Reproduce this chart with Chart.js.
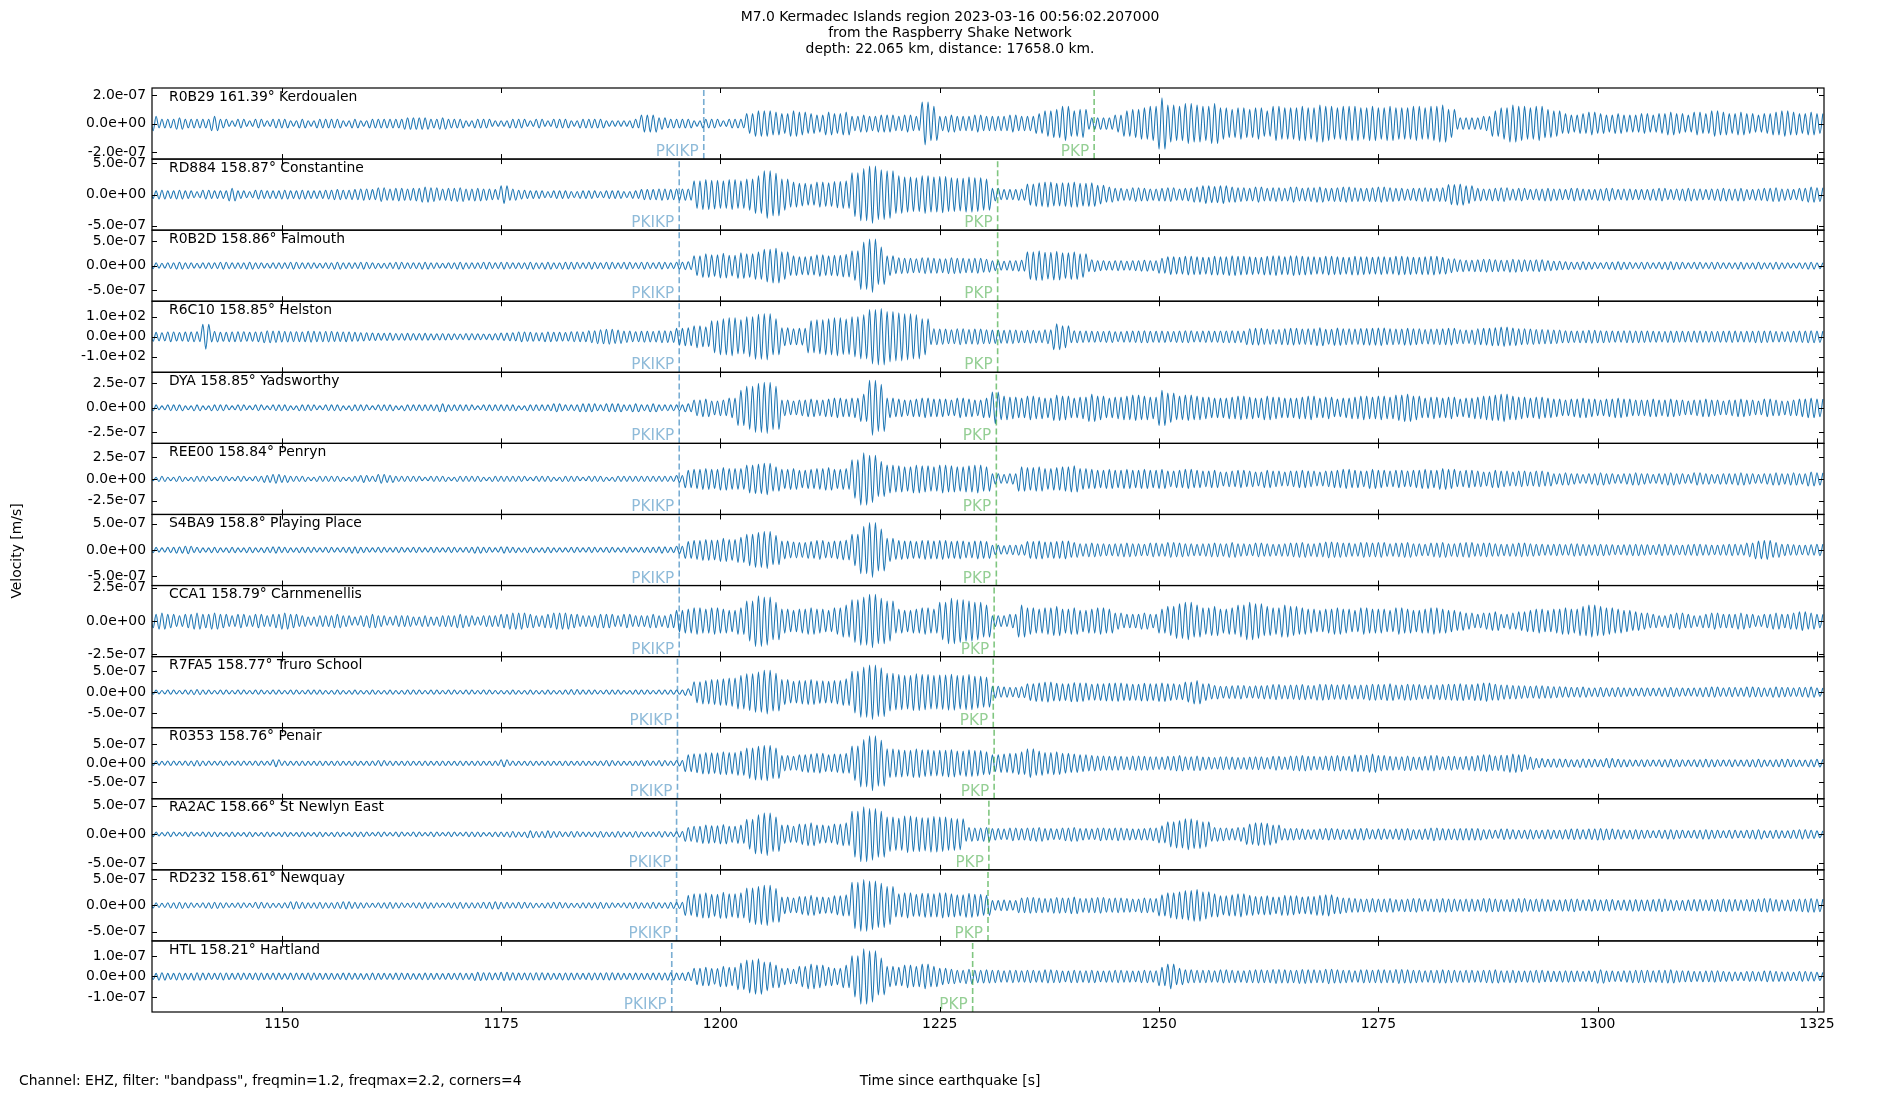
<!DOCTYPE html>
<html>
<head>
<meta charset="utf-8">
<title>M7.0 Kermadec Islands region - Raspberry Shake traces</title>
<script src="https://cdn.jsdelivr.net/npm/chart.js@4.4.1/dist/chart.umd.min.js"></script>
<style>
  html, body { margin: 0; padding: 0; background: #fff; }
  #wrap { position: relative; width: 1900px; height: 1100px; }
</style>
</head>
<body>
<div id="wrap"><canvas id="traces"></canvas></div>
<script>
"use strict";

// ---- data ----
const titleLines = [
  "M7.0 Kermadec Islands region 2023-03-16 00:56:02.207000",
  "from the Raspberry Shake Network",
  "depth: 22.065 km, distance: 17658.0 km."
];
const footNote = 'Channel: EHZ, filter: "bandpass", freqmin=1.2, freqmax=2.2, corners=4';
const xTitle = "Time since earthquake [s]";
const yTitle = "Velocity [m/s]";

const xMin = 1135.2, xMax = 1325.8, xStep = 25;
const tStart = 1135;          // envelope arrays: one value per second from here

const stations  = ["R0B29", "RD884", "R0B2D", "R6C10", "DYA", "REE00", "S4BA9", "CCA1", "R7FA5", "R0353", "RA2AC", "RD232", "HTL"];
const distances = [161.39, 158.87, 158.86, 158.85, 158.85, 158.84, 158.8, 158.79, 158.77, 158.76, 158.66, 158.61, 158.21];
const places    = ["Kerdoualen", "Constantine", "Falmouth", "Helston", "Yadsworthy", "Penryn", "Playing Place", "Carnmenellis", "Truro School", "Penair", "St Newlyn East", "Newquay", "Hartland"];

// half-height of each panel and its tick step (R6C10 is in counts)
const yLimits   = [2.49e-7, 5.7e-7, 7.2e-7, 177, 3.62e-7, 4.07e-7, 6.75e-7, 2.66e-7, 8.5e-7, 9.3e-7, 6.2e-7, 6.75e-7, 1.73e-7];
const yTickStep = [2e-7, 5e-7, 5e-7, 100, 2.5e-7, 2.5e-7, 5e-7, 2.5e-7, 5e-7, 5e-7, 5e-7, 5e-7, 1e-7];
const envUnit   = [1e-8, 1e-8, 1e-8, 1, 1e-8, 1e-8, 1e-8, 1e-8, 1e-8, 1e-8, 1e-8, 1e-8, 1e-8];

// predicted arrival times [s]
const pkikp = [1198.1, 1195.3, 1195.3, 1195.3, 1195.3, 1195.3, 1195.3, 1195.3, 1195.1, 1195.1, 1195.0, 1195.0, 1194.45];
const pkp   = [1242.6, 1231.6, 1231.6, 1231.6, 1231.45, 1231.45, 1231.45, 1231.2, 1231.1, 1231.2, 1230.6, 1230.5, 1228.75];

// amplitude envelopes, one value per second (1135 ... 1325)
const envR0B29 = [
  5,3,3,4,3,3,3,5,3,2,  3,2,3,2,3,3,2,3,2,3,  3,3,2,3,2,3,3,3,3,4,  4,4,3,4,3,3,2,3,3,2,
  2,3,3,2,3,2,3,3,2,3,  3,3,2,2,2,3,6,6,4,3,  3,3,2,3,3,2,3,3,7,9,  9,8,7,9,8,7,6,8,7,8,
  5,6,5,6,6,5,6,5,15,12,  5,6,5,5,6,5,5,5,6,5,  5,7,9,10,12,9,10,4,4,4,  6,9,10,11,12,18,13,12,14,13,
  12,14,11,10,11,10,11,9,12,11,  11,12,11,13,12,11,12,12,11,12,  11,12,11,11,12,11,12,13,10,4,  4,4,5,9,11,13,12,11,12,10,
  9,7,6,7,8,7,6,7,6,6,  7,6,7,8,7,6,8,7,9,8,  7,8,7,6,7,8,9,8,7,8,7
];
const envRD884 = [
  6,7,6,7,6,5,7,6,6,10,  6,5,7,6,6,7,6,7,6,6,  7,8,7,8,9,8,11,9,10,9,  10,12,11,9,10,11,9,10,9,8,
  14,9,7,6,6,5,6,6,5,6,  6,5,6,6,5,6,8,8,9,8,  9,9,22,24,23,22,24,22,25,30,  38,34,25,20,18,17,20,19,21,22,
  35,42,46,40,38,30,28,27,30,28,  29,27,26,28,27,25,10,8,8,9,  17,19,20,18,19,20,18,19,15,12,  10,9,11,10,9,10,11,9,10,12,
  14,13,14,12,11,10,12,10,11,10,  12,10,11,12,10,11,12,11,10,11,  12,11,10,9,10,11,10,11,16,17,  14,10,9,10,11,9,10,8,9,10,
  9,8,10,9,8,9,10,8,9,8,  8,9,10,8,9,10,9,8,9,10,  9,10,8,9,10,11,9,8,10,12,11
];
const envR0B2D = [
  6,5,6,7,6,5,6,6,7,6,  6,7,6,5,6,6,7,6,6,5,  6,7,6,6,7,6,5,6,7,6,  6,7,6,5,6,7,6,6,7,6,
  7,6,6,7,6,7,6,7,7,6,  7,6,7,6,7,6,7,6,7,6,  7,8,20,24,22,25,21,26,24,28,  33,35,28,20,18,19,22,20,21,23,
  30,48,54,38,20,16,15,14,16,15,  14,16,15,14,15,13,10,9,10,11,  28,30,27,29,26,28,24,12,10,9,  10,9,10,11,10,15,18,17,19,18,
  17,19,18,20,19,18,17,19,20,18,  20,19,18,17,19,18,17,19,18,17,  18,17,19,18,17,18,19,17,14,12,  11,12,13,12,11,13,12,11,12,10,
  9,8,7,8,7,6,7,8,7,6,  7,6,7,8,7,6,7,6,7,6,  6,7,6,7,6,7,6,5,6,7,6
];
const envR6C10 = [
  22,20,24,21,23,25,62,26,22,24,  25,22,24,30,28,26,25,24,27,25,  26,23,24,22,20,18,17,18,16,17,  16,17,15,16,15,14,16,15,14,16,
  18,20,24,22,20,24,22,21,25,24,  30,35,37,33,28,25,27,26,30,28,  42,45,55,50,80,90,95,85,100,112,  115,90,45,40,42,80,85,90,95,88,
  100,110,135,140,125,120,115,110,90,40,  38,35,40,36,38,35,33,32,34,30,  32,30,35,65,55,30,28,27,26,28,  25,27,28,30,27,28,26,28,30,26,
  28,27,29,30,28,40,42,38,36,40,  42,38,40,45,37,43,40,38,41,42,  44,40,38,42,40,36,38,40,42,35,  33,40,42,45,48,44,40,38,36,35,
  34,30,28,30,32,30,28,27,30,29,  28,27,26,28,27,26,28,27,26,27,  28,26,27,29,28,26,25,27,28,30,28
];
const envDYA = [
  3,2,3,3,2,3,2,3,3,2,  3,2,3,2,3,3,2,3,3,2,  3,3,2,3,3,2,3,3,2,3,  3,3,3,4,3,3,3,2,3,3,
  3,3,2,3,3,3,4,3,3,4,  4,3,4,4,3,4,3,4,3,3,  3,4,8,9,7,8,10,18,22,25,  26,22,8,7,8,9,8,9,10,9,
  10,14,28,24,10,9,8,9,10,9,  9,8,10,9,8,10,16,12,11,10,  12,11,10,13,12,10,11,14,12,10,  11,12,13,12,11,18,15,12,13,12,
  11,10,10,11,12,11,10,12,11,10,  10,11,12,10,11,9,10,11,12,11,  12,11,13,14,12,10,11,10,11,9,  10,11,12,13,14,12,11,10,11,10,
  9,8,9,10,9,8,9,10,9,8,  8,9,8,9,8,7,8,9,8,7,  8,9,8,7,9,8,7,8,9,10,9
];
const envREE00 = [
  2,3,2,3,2,3,3,2,3,2,  3,2,3,4,5,4,3,3,2,3,  3,3,2,3,4,3,5,4,3,3,  3,2,3,3,2,3,3,3,2,3,
  3,3,3,2,3,3,2,3,3,2,  3,3,2,3,3,3,3,3,3,3,  4,10,11,12,11,13,12,12,16,17,  18,14,11,12,10,11,12,13,11,12,
  22,30,27,20,16,15,14,16,15,14,  16,15,14,15,16,14,6,5,6,14,  13,14,12,13,14,15,12,11,10,11,  10,11,10,11,10,11,9,10,11,10,
  9,10,8,9,10,9,8,10,9,8,  9,10,9,8,9,10,11,10,9,11,  10,9,10,9,10,11,10,12,11,9,  10,9,8,10,9,8,9,8,9,8,
  6,7,6,5,6,7,6,5,6,7,  6,5,6,7,6,5,7,6,5,6,  6,7,6,5,6,7,6,7,6,8,7
];
const envS4BA9 = [
  5,4,5,6,7,5,4,5,4,5,  4,5,4,5,6,5,4,5,5,4,  5,4,5,6,5,4,5,4,5,4,  5,4,5,4,5,4,5,6,5,4,
  6,5,4,5,4,5,4,4,5,4,  5,4,5,4,5,4,5,5,6,5,  7,16,18,20,19,22,20,24,30,33,  35,28,17,15,14,16,18,15,17,19,
  30,45,52,40,22,18,17,16,18,17,  18,16,17,15,17,16,9,8,9,10,  16,17,15,16,17,14,12,13,12,11,  12,13,12,11,13,12,14,13,12,11,
  12,13,12,14,12,11,13,12,11,12,  13,14,12,13,15,14,13,12,14,13,  14,12,13,14,12,11,13,14,12,13,  14,12,13,12,11,12,13,12,11,10,
  11,10,12,11,10,11,10,9,10,11,  10,9,11,10,9,10,11,10,9,10,  11,10,13,17,18,14,11,10,9,10,11
];
const envCCA1 = [
  5,6,5,4,5,6,5,6,5,4,  5,4,5,4,5,6,5,4,3,4,  4,5,4,3,4,5,4,3,4,4,  3,4,3,4,4,5,4,3,4,4,
  5,6,6,5,4,5,6,6,5,4,  4,5,5,4,5,4,4,5,4,5,  8,9,10,9,10,9,8,10,15,19,  18,14,9,8,9,10,9,8,10,12,
  16,18,20,17,15,9,8,9,10,9,  14,17,16,15,14,12,4,4,5,12,  10,9,10,11,9,10,8,9,10,9,  6,5,5,6,5,9,11,13,14,12,
  10,11,9,10,12,14,13,11,10,12,  11,10,9,8,9,10,9,8,10,9,  9,8,10,9,8,9,10,9,8,7,  6,5,6,7,5,6,7,8,9,8,
  9,10,9,11,12,11,10,9,8,7,  6,5,4,5,6,5,4,5,6,5,  5,6,5,4,5,6,5,6,7,6,5
];
const envR7FA5 = [
  5,4,5,4,5,6,5,4,5,4,  5,4,5,4,5,4,5,4,5,5,  4,5,4,5,4,5,4,5,4,5,  5,4,5,4,5,4,5,4,5,4,
  4,5,4,5,4,5,4,5,6,5,  5,4,5,5,4,5,5,4,5,5,  5,8,25,28,30,32,34,40,44,48,  52,45,30,26,28,30,27,26,28,32,
  50,60,65,58,45,42,40,44,42,40,  41,43,40,42,38,36,14,12,11,13,  20,22,24,21,20,23,22,19,20,21,  22,20,19,21,20,22,20,18,24,28,
  20,16,14,15,16,14,15,16,18,16,  17,18,16,19,18,17,18,16,17,19,  18,20,17,19,18,16,17,18,19,20,  18,20,22,19,17,16,15,14,15,14,
  13,12,11,12,10,11,10,11,10,9,  10,9,10,11,10,9,10,11,12,10,  11,10,12,11,10,12,11,10,11,12,10
];
const envR0353 = [
  6,5,6,5,6,7,6,5,6,5,  6,5,6,5,9,6,5,6,5,6,  5,6,5,6,5,6,7,6,5,6,  5,6,5,6,5,6,5,6,5,6,
  9,6,5,6,5,6,5,6,5,6,  5,6,7,6,5,6,7,6,7,6,  7,22,25,28,27,30,28,32,40,44,  46,40,20,18,22,24,26,22,24,26,
  45,62,72,60,38,36,34,38,35,33,  34,36,32,35,33,30,22,24,26,30,  38,32,28,30,26,24,22,20,19,18,  18,17,19,18,17,16,18,20,17,19,
  16,15,17,16,15,16,17,15,18,16,  19,20,18,17,19,20,18,22,21,24,  20,18,17,19,16,18,20,17,18,16,  18,20,22,19,21,24,22,16,12,10,
  11,10,9,11,10,9,12,10,9,8,  9,8,9,10,9,8,9,10,9,8,  9,8,9,10,8,9,10,9,8,9,10
];
const envRA2AC = [
  4,3,4,3,4,3,4,4,3,4,  3,4,3,4,3,4,3,4,3,4,  3,4,3,4,4,3,4,3,4,3,  4,3,4,3,4,3,4,4,3,4,
  4,5,4,6,5,6,5,4,5,4,  4,5,4,5,4,5,4,4,5,4,  5,12,14,16,15,17,14,16,26,34,  37,30,16,14,18,20,16,15,18,20,
  40,48,45,40,30,28,32,30,29,31,  30,28,27,12,11,12,10,9,11,10,  11,12,10,9,11,12,10,9,11,10,  11,10,9,10,11,15,22,24,27,25,
  22,12,11,10,12,18,20,19,16,10,  10,9,8,9,10,9,8,9,10,8,  9,8,9,10,8,9,11,10,9,10,  10,10,8,7,9,8,7,8,7,8,
  7,8,9,8,9,10,9,8,7,8,  7,6,7,8,7,6,7,8,7,6,  7,6,7,8,6,7,6,7,8,7,6
];
const envRD232 = [
  5,4,5,6,5,4,5,6,5,4,  5,4,6,5,4,5,7,6,5,6,  5,6,7,6,5,4,5,6,5,4,  5,6,5,4,5,6,5,5,6,7,
  6,5,6,5,4,5,6,5,4,5,  5,6,5,4,5,6,5,6,5,6,  6,19,22,24,21,25,22,24,33,36,  38,32,16,14,17,19,16,15,18,20,
  44,49,46,42,36,22,24,21,23,22,  24,22,20,23,21,19,9,10,9,14,  15,14,13,15,14,16,13,14,15,13,  14,13,12,14,13,20,24,26,28,30,
  26,22,18,20,22,19,17,18,16,19,  18,16,17,19,20,16,14,13,12,13,  12,13,11,12,13,11,12,13,12,11,  12,11,13,12,11,12,13,11,12,11,
  10,11,12,10,11,10,11,9,10,11,  10,11,12,10,9,10,11,10,11,12,  11,10,11,12,13,11,10,11,12,13,12
];
const envHTL = [
  1.5,1.8,1.5,1.7,1.5,1.8,1.6,1.5,1.7,1.5,  1.6,1.5,1.7,1.5,1.6,1.4,1.6,1.5,1.7,1.5,
  1.5,1.4,1.6,1.5,1.4,1.6,1.5,1.4,1.6,1.5,  1.4,1.6,1.5,1.4,1.5,1.6,1.5,2.0,1.8,1.6,
  2.0,1.8,1.6,1.7,1.8,1.6,1.5,1.7,1.6,1.5,  1.7,1.6,1.8,1.6,1.5,1.6,1.5,1.6,1.7,1.8,
  1.6,2.0,4.0,4.5,3.8,5.0,4.5,6.5,8.0,8.6,  7.0,5.5,4.0,3.5,5.0,6.0,5.5,4.5,4.0,5.5,
  10.0,13.5,12.5,9.0,5.0,4.5,5.5,5.0,6.0,5.0,  4.0,3.5,3.0,3.5,3.0,3.2,3.0,2.8,3.0,2.8,
  3.0,2.8,3.2,3.0,2.6,3.0,2.8,3.0,2.6,2.8,  3.0,2.8,2.6,3.0,2.8,4.5,6.0,4.0,3.2,3.0,
  3.0,2.8,3.2,3.0,2.8,3.0,3.2,3.0,3.4,3.2,  3.0,3.4,3.2,3.0,3.5,3.2,3.0,2.8,3.2,3.0,
  3.2,3.0,3.4,3.2,3.0,2.8,3.0,3.2,3.0,2.8,  3.0,2.8,3.0,3.2,2.8,3.0,2.6,2.8,3.0,2.6,
  2.5,2.8,2.6,2.4,2.6,3.3,2.6,2.4,2.8,3.0,  3.0,2.8,3.0,3.2,2.8,2.6,2.4,2.6,2.8,2.4,
  2.2,2.0,2.4,2.2,2.6,2.4,2.2,2.0,2.4,2.2,2.0
];
const envelopes = [envR0B29, envRD884, envR0B2D, envR6C10, envDYA, envREE00, envS4BA9, envCCA1, envR7FA5, envR0353, envRA2AC, envRD232, envHTL];

// ---- helpers ----
const FONT = '"DejaVu Sans", "Liberation Sans", sans-serif';
const traceColor = "#1f77b4";

// the ~1.5 Hz band-passed signal swings between +/- the envelope, three half-cycles per second
function traceFromEnvelope(env, unit) {
  const pts = [];
  let sign = 1;
  env.forEach(function (a, k) {
    for (let j = 0; j < 3; j++) {
      pts.push({ x: tStart + k + j / 3, y: sign * a * unit });
      sign = -sign;
    }
  });
  return pts;
}

function sciLabel(value) {
  if (Math.abs(value) < 1e-20) return "0.0e+00";
  const parts = Number(value).toExponential(1).split("e");
  const exp = parseInt(parts[1], 10);
  return parts[0] + "e" + (exp < 0 ? "-" : "+") + String(Math.abs(exp)).padStart(2, "0");
}

// ---- datasets ----
const datasets = [];
stations.forEach(function (s, i) {
  datasets.push({
    label: s,
    data: traceFromEnvelope(envelopes[i], envUnit[i]),
    yAxisID: "y" + i,
    borderColor: traceColor,
    borderWidth: 1.1,
    pointRadius: 0,
    cubicInterpolationMode: "monotone",
    order: 2
  });
  datasets.push({
    label: "PKIKP " + s,
    data: [{ x: pkikp[i], y: -yLimits[i] }, { x: pkikp[i], y: yLimits[i] }],
    yAxisID: "y" + i,
    borderColor: "rgba(31,119,180,0.6)",
    borderWidth: 1.6,
    borderDash: [6, 3],
    pointRadius: 0,
    order: 1
  });
  datasets.push({
    label: "PKP " + s,
    data: [{ x: pkp[i], y: -yLimits[i] }, { x: pkp[i], y: yLimits[i] }],
    yAxisID: "y" + i,
    borderColor: "rgba(44,160,44,0.6)",
    borderWidth: 1.6,
    borderDash: [6, 3],
    pointRadius: 0,
    order: 1
  });
});

// ---- scales: one shared x, thirteen stacked y (last defined sits on top) ----
const scales = {
  x: {
    type: "linear",
    position: "bottom",
    min: xMin,
    max: xMax,
    grid: { display: false, drawTicks: false },
    border: { display: false },
    afterFit: function (scale) { scale.height = 30; },
    ticks: {
      stepSize: xStep,
      includeBounds: false,
      padding: 4,
      color: "#000",
      font: { family: FONT, size: 13.9 },
      maxRotation: 0,
      callback: function (value) { return String(value); }
    }
  }
};
for (let i = stations.length - 1; i >= 0; i--) {
  scales["y" + i] = {
    type: "linear",
    position: "left",
    stack: "panels",
    stackWeight: 1,
    min: -yLimits[i],
    max: yLimits[i],
    grid: { display: false, drawTicks: false },
    border: { display: false },
    afterFit: function (scale) { scale.width = 152; },
    ticks: {
      stepSize: yTickStep[i],
      includeBounds: false,
      autoSkip: false,
      padding: 6,
      color: "#000",
      font: { family: FONT, size: 13.9 },
      callback: sciLabel
    }
  };
}

// ---- frames, inward ticks, labels and figure texts ----
const decorations = {
  id: "decorations",
  afterDraw: function (chart) {
    const ctx = chart.ctx;
    const xs = chart.scales.x;
    const left = xs.left, right = xs.right;
    ctx.save();
    stations.forEach(function (name, i) {
      const ys = chart.scales["y" + i];
      const top = ys.top, bottom = ys.bottom;
      ctx.strokeStyle = "#000";
      ctx.lineWidth = 1.2;
      ctx.strokeRect(left, top, right - left, bottom - top);
      ctx.lineWidth = 1;
      ctx.beginPath();
      xs.ticks.forEach(function (t) {
        const px = Math.round(xs.getPixelForValue(t.value)) + 0.5;
        ctx.moveTo(px, bottom); ctx.lineTo(px, bottom - 5);
        ctx.moveTo(px, top); ctx.lineTo(px, top + 5);
      });
      ys.ticks.forEach(function (t) {
        const py = Math.round(ys.getPixelForValue(t.value)) + 0.5;
        ctx.moveTo(left, py); ctx.lineTo(left + 5, py);
        ctx.moveTo(right, py); ctx.lineTo(right - 5, py);
      });
      ctx.stroke();

      ctx.font = "13.9px " + FONT;
      ctx.fillStyle = "#000";
      ctx.textAlign = "left";
      ctx.textBaseline = "middle";
      ctx.fillText(name + " " + distances[i] + "\u00b0 " + places[i], left + 17, top + 9);

      ctx.font = "15.3px " + FONT;
      ctx.textAlign = "right";
      ctx.fillStyle = "rgba(31,119,180,0.5)";
      ctx.fillText("PKIKP", xs.getPixelForValue(pkikp[i]) - 5, bottom - 7);
      ctx.fillStyle = "rgba(44,160,44,0.5)";
      ctx.fillText("PKP", xs.getPixelForValue(pkp[i]) - 5, bottom - 7);
    });

    ctx.font = "13.9px " + FONT;
    ctx.fillStyle = "#000";
    ctx.textAlign = "center";
    ctx.textBaseline = "middle";
    titleLines.forEach(function (line, k) {
      ctx.fillText(line, 950, 17 + k * 16.3);
    });
    ctx.fillText(xTitle, 950, 1081);
    ctx.textAlign = "left";
    ctx.fillText(footNote, 19, 1081);

    ctx.translate(17, 551);
    ctx.rotate(-Math.PI / 2);
    ctx.textAlign = "center";
    ctx.fillText(yTitle, 0, 0);
    ctx.restore();
  }
};

new Chart(document.getElementById("traces"), {
  type: "line",
  data: { datasets: datasets },
  options: {
    animation: false,
    responsive: true,
    maintainAspectRatio: false,
    parsing: false,
    normalized: true,
    events: [],
    layout: { padding: { left: 0, right: 76, top: 88, bottom: 58 } },
    plugins: {
      legend: { display: false },
      tooltip: { enabled: false },
      title: { display: false }
    },
    scales: scales
  },
  plugins: [decorations]
});
</script>
</body>
</html>
